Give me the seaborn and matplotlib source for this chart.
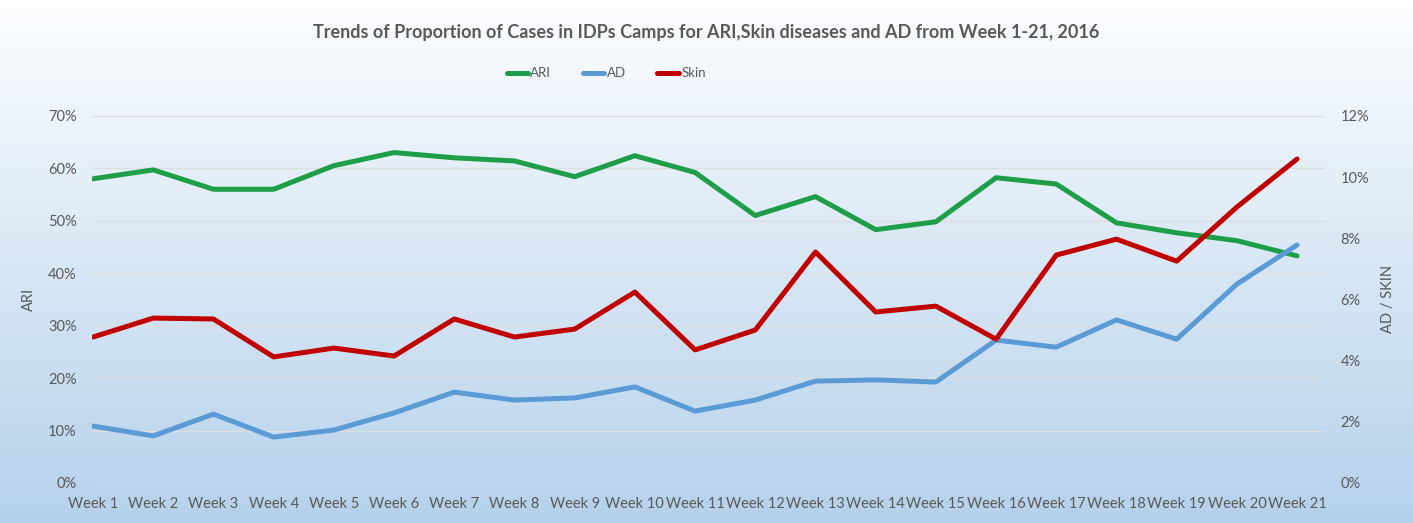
"""Trends of ARI, AD and skin disease proportions in IDP camps, weeks 1-21 2016."""

import matplotlib.pyplot as plt
import numpy as np
import pandas as pd
import seaborn as sns
from matplotlib.ticker import PercentFormatter

sns.set_theme(style="white")
plt.rcParams['font.family'] = ['Lato', 'DejaVu Sans']

# ------------------------------------------------------------
# Data (percent of cases)
# ------------------------------------------------------------
weeks = [f"Week {i}" for i in range(1, 22)]
ari = [58.0, 59.7, 56.0, 56.0, 60.5, 63.0, 62.0, 61.4, 58.4, 62.4, 59.2,
       51.0, 54.6, 48.3, 49.8, 58.2, 57.0, 49.6, 47.7, 46.2, 43.3]
ad = [1.86, 1.54, 2.25, 1.50, 1.73, 2.29, 2.97, 2.71, 2.78, 3.14, 2.35,
      2.71, 3.33, 3.37, 3.30, 4.67, 4.44, 5.33, 4.70, 6.50, 7.78]
skin = [4.77, 5.39, 5.36, 4.12, 4.41, 4.15, 5.36, 4.77, 5.03, 6.24, 4.35,
        5.00, 7.55, 5.59, 5.78, 4.70, 7.45, 7.97, 7.25, 9.02, 10.59]

colors = {"ARI": "#1e9e48", "AD": "#5b9bd5", "Skin": "#c00000"}
grey = "#595959"

df = pd.DataFrame({"Week": weeks, "ARI": ari, "AD": ad, "Skin": skin})
df["x"] = range(len(weeks))

fig = plt.figure(figsize=(14.13, 5.23), dpi=100)

# gradient background (white at top, light blue at bottom)
bg = fig.add_axes([0, 0, 1, 1], zorder=-10)
grad = np.linspace(0, 1, 256).reshape(-1, 1)
top = np.array([0.99, 0.995, 1.0])
bottom = np.array([0.71, 0.82, 0.92])
img = top + (bottom - top) * grad[..., None]
bg.imshow(img, aspect="auto", extent=[0, 1, 0, 1])
bg.axis("off")

ax = fig.add_axes([0.065, 0.0765, 0.873, 0.702])
ax.patch.set_alpha(0)
ax2 = ax.twinx()
ax2.patch.set_alpha(0)

lw = 3.6
sns.lineplot(data=df, x="x", y="ARI", color=colors["ARI"], linewidth=lw,
             ax=ax, label="ARI", legend=False)
sns.lineplot(data=df, x="x", y="AD", color=colors["AD"], linewidth=lw,
             ax=ax2, label="AD", legend=False)
sns.lineplot(data=df, x="x", y="Skin", color=colors["Skin"], linewidth=lw,
             ax=ax2, label="Skin", legend=False)

ax.set_ylim(0, 70)
ax.set_yticks(range(0, 71, 10))
ax2.set_ylim(0, 12)
ax2.set_yticks(range(0, 13, 2))
ax.yaxis.set_major_formatter(PercentFormatter(decimals=0))
ax2.yaxis.set_major_formatter(PercentFormatter(decimals=0))
ax.set_xlim(-0.02, 20.47)
ax.set_xticks(df["x"])
ax.set_xticklabels(weeks)

ax.grid(axis="y", color="#dedede", linewidth=1)
ax.set_axisbelow(True)
for a in (ax, ax2):
    for s in a.spines.values():
        s.set_visible(False)
    a.tick_params(length=0, colors=grey, labelsize=10.5)
ax.tick_params(axis="y", pad=11)
ax2.tick_params(axis="y", pad=11)
ax.tick_params(axis="x", pad=10)

ax.set_xlabel("")
ax.set_ylabel("ARI", color=grey, fontsize=10.5)
ax.yaxis.set_label_coords(-0.045, 0.5)
ax2.set_ylabel("AD / SKIN", color=grey, fontsize=10.5, rotation=90)
ax2.yaxis.set_label_coords(1.045, 0.5)

fig.suptitle("Trends of Proportion of Cases in IDPs Camps for ARI,Skin diseases "
             "and AD from Week 1-21, 2016",
             x=0.5, y=0.955, fontsize=13, fontweight="bold", color=grey)

handles = [ax.lines[0], ax2.lines[0], ax2.lines[1]]
fig.legend(handles, ["ARI", "AD", "Skin"], loc="center", ncol=3,
           bbox_to_anchor=(0.429, 0.86), frameon=False, fontsize=9.5,
           handlelength=1.6, handletextpad=0.2, columnspacing=2.4,
           labelcolor=grey)

fig.savefig("out.png", dpi=100)
